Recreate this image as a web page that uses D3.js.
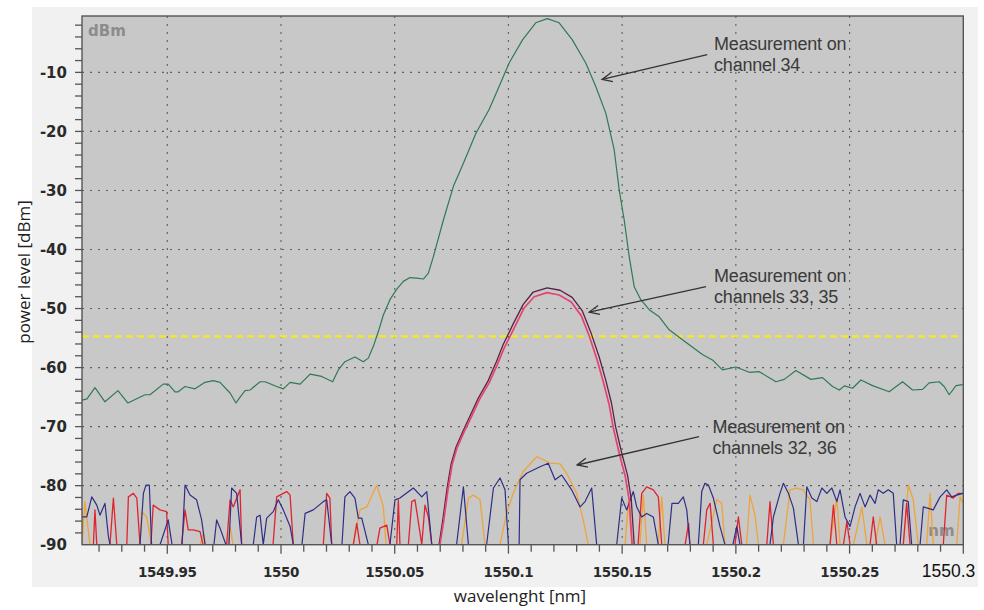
<!DOCTYPE html>
<html>
<head>
<meta charset="utf-8">
<script src="https://cdn.jsdelivr.net/npm/d3@7"></script>
<style>
  html, body { margin: 0; padding: 0; background: #ffffff; }
  svg { display: block; }
</style>
</head>
<body>
<svg id="chart" width="984" height="610"></svg>
<script>
// ---------------- DATA ----------------
const xTickValues = [1549.95, 1550, 1550.05, 1550.1, 1550.15, 1550.2, 1550.25];
const xTickLabels = ["1549.95", "1550", "1550.05", "1550.1", "1550.15", "1550.2", "1550.25"];
const xLastLabel = "1550.3";
const yTickValues = [-10, -20, -30, -40, -50, -60, -70, -80, -90];
const yTickLabels = ["-10", "-20", "-30", "-40", "-50", "-60", "-70", "-80", "-90"];
const thresholdDbm = -54.7;

// channel 34 (green)
const ch34 = [
  [1549.9125,-65.5],[1549.9147,-65.3],[1549.9182,-63.4],[1549.9226,-65.8],[1549.9283,-63.9],
  [1549.9327,-66.0],[1549.9402,-64.6],[1549.9424,-64.6],[1549.9482,-62.8],[1549.9504,-62.8],
  [1549.9534,-64.1],[1549.9548,-64.1],[1549.9578,-63.2],[1549.9622,-63.6],[1549.9666,-62.5],
  [1549.9702,-62.2],[1549.9732,-62.5],[1549.9776,-64.3],[1549.9802,-66.0],[1549.9820,-65.0],
  [1549.9842,-63.9],[1549.9864,-63.8],[1549.9908,-62.4],[1549.9930,-62.4],[1549.9981,-63.2],
  [1550.0010,-63.6],[1550.0040,-62.5],[1550.0084,-62.8],[1550.0128,-61.1],[1550.0179,-61.5],
  [1550.0227,-62.4],[1550.0252,-60.4],[1550.0281,-59.0],[1550.0325,-58.2],[1550.0362,-59.0],
  [1550.0384,-58.4],[1550.0406,-56.4],[1550.0428,-53.9],[1550.0450,-51.1],[1550.0479,-48.5],
  [1550.0509,-46.7],[1550.0538,-45.4],[1550.0567,-44.75],[1550.0597,-44.85],[1550.0626,-45.0],
  [1550.0648,-44.0],[1550.0670,-41.2],[1550.0714,-35.0],[1550.0758,-29.3],[1550.0802,-25.4],
  [1550.0857,-20.3],[1550.0915,-16.3],[1550.0959,-12.4],[1550.1003,-8.4],[1550.1062,-4.5],
  [1550.1120,-1.6],[1550.1171,-0.9],[1550.1223,-1.6],[1550.1281,-4.5],[1550.1340,-8.4],
  [1550.1384,-12.4],[1550.1428,-16.9],[1550.1465,-23.1],[1550.1487,-29.9],[1550.1509,-35.0],
  [1550.1531,-41.2],[1550.1553,-46.3],[1550.1582,-48.5],[1550.1619,-50.2],[1550.1663,-51.4],
  [1550.1707,-53.6],[1550.1765,-55.3],[1550.1853,-57.8],[1550.1897,-58.7],[1550.1941,-60.4],
  [1550.2000,-59.9],[1550.2059,-60.8],[1550.2103,-60.7],[1550.2176,-62.4],[1550.2213,-62.0],
  [1550.2264,-60.5],[1550.2330,-62.0],[1550.2381,-61.7],[1550.2425,-63.2],[1550.2455,-63.8],
  [1550.2477,-63.1],[1550.2513,-63.5],[1550.2550,-62.1],[1550.2601,-63.05],[1550.2674,-64.1],
  [1550.2733,-62.4],[1550.2777,-63.8],[1550.2821,-63.7],[1550.2850,-62.6],[1550.2894,-62.4],
  [1550.2916,-63.2],[1550.2938,-64.6],[1550.2968,-63.05],[1550.2997,-62.9]
];

// channel 33 (red, lower)
const ch33 = [
  [1550.0699,-90],[1550.0716,-85.8],[1550.0734,-80.7],[1550.0752,-76.5],[1550.0774,-73.6],
  [1550.0805,-70.9],[1550.0835,-68.5],[1550.0871,-65.5],[1550.0915,-62.6],[1550.0951,-59.5],
  [1550.0981,-56.7],[1550.1025,-53.3],[1550.1069,-49.9],[1550.1113,-48.0],[1550.1170,-47.3],
  [1550.1223,-47.7],[1550.1276,-48.9],[1550.1320,-51.2],[1550.1355,-54.6],[1550.1390,-58.7],
  [1550.1417,-62.4],[1550.1443,-66.3],[1550.1461,-70.2],[1550.1487,-74.5],[1550.1514,-78.5],
  [1550.1531,-82.4],[1550.1544,-90]
];

// channel 35 (dark, slightly higher)
const ch35 = [
  [1550.0695,-90],[1550.0712,-85.6],[1550.0730,-80.5],[1550.0748,-76.3],[1550.0770,-73.4],
  [1550.0801,-70.7],[1550.0831,-68.2],[1550.0867,-65.2],[1550.0911,-62.2],[1550.0947,-59.0],
  [1550.0977,-56.1],[1550.1021,-52.6],[1550.1065,-49.3],[1550.1109,-47.2],[1550.1170,-46.5],
  [1550.1227,-46.9],[1550.1280,-48.1],[1550.1325,-50.4],[1550.1362,-54.0],[1550.1399,-58.2],
  [1550.1427,-62.0],[1550.1453,-66.0],[1550.1471,-70.0],[1550.1497,-74.3],[1550.1524,-78.3],
  [1550.1540,-82.3],[1550.1553,-90]
];

// channel 36 / noise (navy)
const noiseNavy = [
  [1549.9125,-85.3],[1549.9146,-85.3],[1549.9168,-81.9],[1549.9190,-83.3],[1549.9204,-85.0],
  [1549.9226,-83.0],[1549.9241,-88.6],[1549.9248,-90],[1549.9380,-90],[1549.9395,-81.3],
  [1549.9406,-79.9],[1549.9421,-79.9],[1549.9431,-90],[1549.9468,-90],[1549.9504,-85.8],
  [1549.9521,-90],[1549.9565,-90],[1549.9578,-79.9],[1549.9600,-81.6],[1549.9629,-82.4],
  [1549.9651,-85.8],[1549.9666,-90],[1549.9705,-90],[1549.9717,-85.8],[1549.9732,-87.2],
  [1549.9758,-90],[1549.9771,-90],[1549.9783,-80.4],[1549.9805,-81.3],[1549.9827,-90],
  [1549.9878,-90],[1549.9893,-85.3],[1549.9908,-85.0],[1549.9922,-90],[1549.9937,-85.5],
  [1549.9966,-84.4],[1549.9988,-82.4],[1550.0010,-84.1],[1550.0040,-86.9],[1550.0054,-90],
  [1550.0092,-90],[1550.0106,-84.7],[1550.0142,-84.1],[1550.0186,-82.7],[1550.0201,-82.4],
  [1550.0223,-90],[1550.0268,-90],[1550.0281,-81.9],[1550.0303,-81.0],[1550.0325,-82.1],
  [1550.0340,-85.5],[1550.0355,-85.5],[1550.0384,-90],[1550.0479,-90],[1550.0501,-82.4],
  [1550.0523,-82.1],[1550.0582,-80.4],[1550.0619,-81.9],[1550.0641,-81.0],[1550.0663,-90],
  [1550.0772,-90],[1550.0802,-80.2],[1550.0824,-90],[1550.0904,-90],[1550.0934,-80.4],
  [1550.0963,-78.7],[1550.0985,-80.7],[1550.1000,-90],[1550.1047,-90],[1550.1051,-79.0],
  [1550.1080,-77.9],[1550.1139,-76.8],[1550.1175,-76.2],[1550.1205,-79.0],[1550.1234,-78.2],
  [1550.1278,-80.7],[1550.1315,-83.6],[1550.1337,-82.7],[1550.1366,-80.4],[1550.1388,-90],
  [1550.1476,-90],[1550.1498,-82.1],[1550.1520,-84.1],[1550.1549,-81.0],[1550.1564,-83.6],
  [1550.1586,-85.3],[1550.1608,-84.7],[1550.1637,-85.3],[1550.1659,-90],[1550.1702,-90],
  [1550.1719,-83.0],[1550.1747,-83.0],[1550.1769,-81.9],[1550.1784,-84.1],[1550.1798,-90],
  [1550.1835,-90],[1550.1850,-81.0],[1550.1864,-79.6],[1550.1879,-79.9],[1550.1901,-82.1],
  [1550.1930,-86.9],[1550.1952,-90],[1550.1987,-90],[1550.2004,-86.9],[1550.2018,-90],
  [1550.2150,-90],[1550.2165,-85.3],[1550.2194,-81.3],[1550.2209,-79.6],[1550.2231,-81.3],
  [1550.2253,-83.8],[1550.2275,-90],[1550.2297,-90],[1550.2312,-80.2],[1550.2334,-82.1],
  [1550.2356,-82.7],[1550.2378,-80.4],[1550.2400,-81.3],[1550.2422,-80.4],[1550.2444,-82.7],
  [1550.2458,-80.7],[1550.2480,-85.3],[1550.2502,-86.9],[1550.2524,-83.6],[1550.2546,-81.3],
  [1550.2568,-83.6],[1550.2590,-81.6],[1550.2612,-83.0],[1550.2626,-80.7],[1550.2648,-81.3],
  [1550.2670,-80.7],[1550.2692,-81.3],[1550.2707,-90],[1550.2722,-90],[1550.2736,-82.4],
  [1550.2758,-82.7],[1550.2773,-90],[1550.2810,-90],[1550.2824,-83.6],[1550.2868,-84.1],
  [1550.2898,-81.9],[1550.2927,-80.7],[1550.2949,-81.9],[1550.2971,-81.6],[1550.3000,-81.3]
];

// noise (red)
const noiseRed = [
  [1549.9125,-90],[1549.9175,-90],[1549.9182,-84.1],[1549.9190,-90],[1549.9248,-90],
  [1549.9263,-82.1],[1549.9278,-90],[1549.9322,-90],[1549.9329,-81.9],[1549.9351,-81.3],
  [1549.9366,-82.1],[1549.9380,-90],[1549.9428,-90],[1549.9438,-83.3],[1549.9468,-84.1],
  [1549.9497,-84.4],[1549.9504,-90],[1549.9563,-90],[1549.9578,-84.1],[1549.9592,-87.5],
  [1549.9614,-87.5],[1549.9644,-87.8],[1549.9657,-90],[1549.9761,-90],[1549.9776,-82.4],
  [1549.9790,-83.6],[1549.9820,-80.7],[1549.9827,-90],[1549.9965,-90],[1549.9981,-81.9],
  [1550.0025,-81.0],[1550.0040,-81.6],[1550.0054,-90],[1550.0186,-90],[1550.0201,-81.3],
  [1550.0215,-82.1],[1550.0223,-90],[1550.0318,-90],[1550.0333,-86.4],[1550.0347,-90],
  [1550.0422,-90],[1550.0435,-87.2],[1550.0465,-86.7],[1550.0479,-90],[1550.0509,-90],
  [1550.0516,-82.4],[1550.0523,-90],[1550.0560,-90],[1550.0575,-82.7],[1550.0589,-82.4],
  [1550.0619,-90],[1550.0633,-83.3],[1550.0648,-85.3],[1550.0663,-90],[1550.1570,-90],
  [1550.1586,-81.3],[1550.1608,-80.2],[1550.1637,-80.7],[1550.1659,-81.9],[1550.1674,-90],
  [1550.1777,-90],[1550.1792,-86.4],[1550.1798,-90],[1550.1857,-90],[1550.1872,-84.1],
  [1550.1887,-83.0],[1550.1901,-90],[1550.1996,-90],[1550.2011,-85.3],[1550.2026,-90],
  [1550.2136,-90],[1550.2150,-82.7],[1550.2165,-90],[1550.2414,-90],[1550.2429,-83.3],
  [1550.2444,-90],[1550.2473,-90],[1550.2488,-86.1],[1550.2502,-90],[1550.2590,-90],
  [1550.2604,-85.3],[1550.2619,-90],[1550.2736,-90],[1550.2751,-83.0],[1550.2766,-90],
  [1550.2912,-90],[1550.2927,-81.6],[1550.2956,-82.1],[1550.2978,-81.3],[1550.3000,-81.3]
];

// channel 32 / noise (orange)
const noiseOrange = [
  [1549.9125,-90],[1549.9138,-82.7],[1549.9160,-90],[1549.9380,-90],[1549.9387,-84.4],
  [1549.9409,-85.3],[1549.9431,-90],[1549.9644,-90],[1549.9658,-88.1],[1549.9670,-90],
  [1549.9767,-90],[1549.9776,-86.9],[1549.9789,-90],[1550.0318,-90],[1550.0347,-84.1],
  [1550.0377,-83.6],[1550.0421,-79.9],[1550.0450,-83.6],[1550.0462,-90],[1550.0794,-90],
  [1550.0824,-82.1],[1550.0846,-81.6],[1550.0875,-82.4],[1550.0897,-90],[1550.0963,-90],
  [1550.0992,-84.7],[1550.1021,-81.3],[1550.1065,-77.6],[1550.1124,-75.1],[1550.1153,-75.6],
  [1550.1183,-76.2],[1550.1227,-76.3],[1550.1256,-77.9],[1550.1300,-81.3],[1550.1329,-85.8],
  [1550.1351,-90],[1550.1513,-90],[1550.1527,-82.7],[1550.1543,-90],[1550.1578,-90],
  [1550.1593,-81.6],[1550.1608,-90],[1550.1658,-90],[1550.1674,-81.9],[1550.1688,-90],
  [1550.1872,-90],[1550.1916,-82.4],[1550.1938,-83.0],[1550.1952,-90],[1550.2047,-90],
  [1550.2062,-81.6],[1550.2084,-85.0],[1550.2099,-90],[1550.2209,-90],[1550.2238,-80.7],
  [1550.2267,-80.4],[1550.2297,-80.7],[1550.2326,-82.4],[1550.2341,-90],[1550.2414,-90],
  [1550.2444,-82.1],[1550.2458,-90],[1550.2517,-90],[1550.2554,-83.6],[1550.2576,-90],
  [1550.2612,-90],[1550.2634,-85.3],[1550.2656,-90],[1550.2736,-90],[1550.2758,-79.9],
  [1550.2780,-82.4],[1550.2802,-90],[1550.2839,-90],[1550.2854,-81.3],[1550.2868,-90],
  [1550.2971,-90],[1550.2986,-81.9],[1550.3000,-83.0]
];

// annotations: text anchor, arrow tail, arrow tip (in data units)
const annotations = [
  { lines: ["Measurement on", "channel 34"], text: [1550.1904, -6.2], tail: [1550.1874, -7.0], tip: [1550.1412, -11.2] },
  { lines: ["Measurement on", "channels 33, 35"], text: [1550.1904, -45.5], tail: [1550.1869, -46.3], tip: [1550.1355, -50.6] },
  { lines: ["Measurement on", "channels 32, 36"], text: [1550.1897, -71.0], tail: [1550.1838, -71.7], tip: [1550.1302, -76.5] }
];

// ---------------- LAYOUT ----------------
const plot = { left: 82, top: 16, right: 963.3, bottom: 544.7 };

const x = d3.scaleLinear().domain([1549.9125, 1550.3]).range([plot.left, plot.right]);
const y = d3.scaleLinear().domain([-90, -0.45]).range([plot.bottom, plot.top]);

const svg = d3.select("#chart");

// outer panel
svg.append("rect").attr("x", 32).attr("y", 7).attr("width", 946).attr("height", 580)
  .attr("fill", "#f1f1f1");

// plot background
svg.append("rect").attr("x", plot.left).attr("y", plot.top)
  .attr("width", plot.right - plot.left).attr("height", plot.bottom - plot.top)
  .attr("fill", "#c8c8c8");

svg.append("defs").append("clipPath").attr("id", "clip")
  .append("rect").attr("x", plot.left).attr("y", plot.top)
  .attr("width", plot.right - plot.left).attr("height", plot.bottom - plot.top);

// grid
const grid = svg.append("g").attr("stroke", "#5e5e5e").attr("stroke-width", 1.1)
  .attr("stroke-dasharray", "2,6");
grid.selectAll("line.v").data(xTickValues).join("line")
  .attr("x1", d => x(d)).attr("x2", d => x(d))
  .attr("y1", plot.top).attr("y2", plot.bottom);
grid.selectAll("line.h").data(yTickValues.filter(v => v > -90)).join("line")
  .attr("y1", d => y(d)).attr("y2", d => y(d))
  .attr("x1", plot.left).attr("x2", plot.right);

// units inside plot
svg.append("text").attr("x", plot.left + 6).attr("y", plot.top + 20)
  .attr("font-family", "DejaVu Sans").attr("font-weight", "bold").attr("font-size", 15)
  .attr("fill", "#8c8c8c").text("dBm");
svg.append("text").attr("x", plot.right - 35).attr("y", plot.bottom - 9)
  .attr("font-family", "DejaVu Sans").attr("font-weight", "bold").attr("font-size", 15)
  .attr("fill", "#8c8c8c").text("nm");

// threshold
svg.append("line").attr("x1", plot.left).attr("x2", plot.right)
  .attr("y1", y(thresholdDbm)).attr("y2", y(thresholdDbm))
  .attr("stroke", "#f4ea1e").attr("stroke-width", 2.2).attr("stroke-dasharray", "7,4");

// lines
const line = d3.line().x(d => x(d[0])).y(d => y(Math.max(-90.5, d[1])));
const lines = svg.append("g").attr("clip-path", "url(#clip)").attr("fill", "none")
  .attr("stroke-linejoin", "round");

const series = [
  { data: noiseOrange, color: "#eea43a", w: 1.3 },
  { data: noiseRed, color: "#de2430", w: 1.3 },
  { data: noiseNavy, color: "#2e2e86", w: 1.2 },
  { data: ch35, color: "#5c1f4a", w: 1.3 },
  { data: ch33, color: "#e2456e", w: 1.7 },
  { data: ch34, color: "#2f7a55", w: 1.2 }
];
series.forEach(s => {
  lines.append("path").datum(s.data).attr("d", line)
    .attr("stroke", s.color).attr("stroke-width", s.w);
});

// plot frame
svg.append("rect").attr("x", plot.left).attr("y", plot.top)
  .attr("width", plot.right - plot.left).attr("height", plot.bottom - plot.top)
  .attr("fill", "none").attr("stroke", "#555").attr("stroke-width", 1.4);

// y axis ticks
const yMinor = d3.range(-88, -0.5, 2);
svg.append("g").attr("stroke", "#555").attr("stroke-width", 1.3)
  .selectAll("line").data(yMinor).join("line")
  .attr("x1", plot.left - 7).attr("x2", plot.left)
  .attr("y1", d => y(d)).attr("y2", d => y(d));
svg.append("g").selectAll("text").data(yTickValues).join("text")
  .attr("x", plot.left - 15).attr("y", d => y(d) + 5.5)
  .attr("text-anchor", "end")
  .attr("font-family", "DejaVu Sans").attr("font-weight", "bold").attr("font-size", 15)
  .attr("fill", "#2a2a2a")
  .text((d, i) => yTickLabels[i]);

// x axis ticks
const xMinor = d3.range(0, 39).map(i => 1549.92 + i * 0.01);
svg.append("g").attr("stroke", "#555").attr("stroke-width", 1.3)
  .selectAll("line").data(xMinor).join("line")
  .attr("x1", d => x(d)).attr("x2", d => x(d))
  .attr("y1", plot.bottom).attr("y2", d => plot.bottom + (Math.abs(d * 20 - Math.round(d * 20)) < 1e-6 ? 9 : 7));
svg.append("g").selectAll("text").data(xTickValues).join("text")
  .attr("x", d => x(d)).attr("y", 577)
  .attr("text-anchor", "middle")
  .attr("font-family", "DejaVu Sans").attr("font-weight", "bold").attr("font-size", 13.5)
  .attr("letter-spacing", -0.4)
  .attr("fill", "#2a2a2a")
  .text((d, i) => xTickLabels[i]);
svg.append("text").attr("x", x(1550.3) + 12).attr("y", 577).attr("text-anchor", "end")
  .attr("font-family", "Liberation Sans").attr("font-size", 17.5).attr("fill", "#111")
  .text(xLastLabel);

// axis titles
svg.append("text").attr("x", 520).attr("y", 602).attr("text-anchor", "middle")
  .attr("font-family", "Open Sans").attr("font-size", 17).attr("fill", "#222")
  .text("wavelenght [nm]");
svg.append("text").attr("transform", "translate(30,272) rotate(-90)").attr("text-anchor", "middle")
  .attr("font-family", "Open Sans").attr("font-size", 17).attr("fill", "#222")
  .text("power level [dBm]");

// annotations
const ann = svg.append("g");
annotations.forEach(a => {
  const tx = x(a.tail[0]), ty = y(a.tail[1]);
  const hx = x(a.tip[0]), hy = y(a.tip[1]);
  ann.append("line").attr("x1", tx).attr("y1", ty).attr("x2", hx).attr("y2", hy)
    .attr("stroke", "#333").attr("stroke-width", 1.3);
  const ang = Math.atan2(ty - hy, tx - hx);
  const L = 11, spread = 0.42;
  const p1 = [hx + L * Math.cos(ang + spread), hy + L * Math.sin(ang + spread)];
  const p2 = [hx + L * Math.cos(ang - spread), hy + L * Math.sin(ang - spread)];
  ann.append("path").attr("d", `M${p1[0]},${p1[1]}L${hx},${hy}L${p2[0]},${p2[1]}`)
    .attr("fill", "none").attr("stroke", "#333").attr("stroke-width", 1.3);
  const t = ann.append("text").attr("x", x(a.text[0])).attr("y", y(a.text[1]))
    .attr("font-family", "Liberation Sans").attr("font-size", 18).attr("fill", "#3a3a3a")
    .attr("letter-spacing", -0.2);
  a.lines.forEach((l, i) => {
    t.append("tspan").attr("x", x(a.text[0])).attr("dy", i === 0 ? 0 : 21.5).text(l);
  });
});
</script>
</body>
</html>
